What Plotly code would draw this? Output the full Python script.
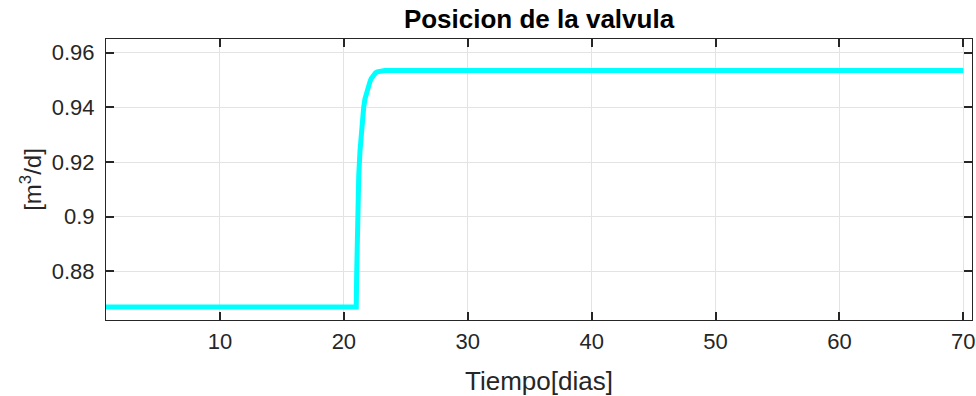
import plotly.graph_objects as go

# Data
tiempo = [0.8, 21.0, 21.03, 21.06, 21.1, 21.15, 21.2, 21.3, 21.4, 21.5, 21.6, 21.7, 21.8, 21.9, 22.0,
          22.1, 22.2, 22.3, 22.4, 22.55, 22.7, 22.85, 23.0, 23.3, 23.6, 70.0]
posicion = [0.867, 0.867, 0.878, 0.888, 0.900, 0.909, 0.915, 0.924, 0.931, 0.936, 0.940, 0.943, 0.945,
            0.9468, 0.948, 0.9493, 0.9505, 0.9513, 0.952, 0.9526, 0.953, 0.9532, 0.9534, 0.9535, 0.9535, 0.9535]

x_ticks = [10, 20, 30, 40, 50, 60, 70]
y_ticks = [0.88, 0.90, 0.92, 0.94, 0.96]
y_tick_text = ["0.88", "0.9", "0.92", "0.94", "0.96"]

FONT = "Liberation Sans, Arial, Helvetica, sans-serif"
DARK = "#262626"

fig = go.Figure()
fig.add_trace(go.Scatter(x=tiempo, y=posicion, mode="lines",
                         line=dict(color="#00FFFF", width=5),
                         showlegend=False, hoverinfo="skip"))

axis_common = dict(showline=True, linecolor=DARK, linewidth=1, mirror="ticks",
                   ticks="inside", ticklen=8, tickwidth=2, tickcolor=DARK,
                   showgrid=True, gridcolor="#E3E3E3", gridwidth=1, zeroline=False,
                   automargin=False,
                   tickfont=dict(family=FONT, size=22, color=DARK))

fig.update_layout(
    width=976, height=396,
    margin=dict(l=106, r=4, t=39, b=76),
    paper_bgcolor="white", plot_bgcolor="white",
    title=dict(text="<b>Posicion de la valvula</b>", x=539 / 976, xref="container", xanchor="center",
               y=0.952, yref="container", yanchor="middle",
               font=dict(family=FONT, size=26, color="black")),
    xaxis=dict(range=[0.8, 70.7], tickvals=x_ticks, ticktext=[str(v) for v in x_ticks],
               ticklabelstandoff=2,
               title=dict(text="Tiempo[dias]", standoff=18, font=dict(family=FONT, size=26, color=DARK)),
               **axis_common),
    yaxis=dict(range=[0.8622, 0.965], tickvals=y_ticks, ticktext=y_tick_text,
               ticklabelstandoff=6,
               title=dict(text="[m<sup>3</sup>/d]", standoff=3, font=dict(family=FONT, size=24, color=DARK)),
               **axis_common),
)

fig.write_html("out.html", config={"displayModeBar": False},
               post_script="document.body.style.margin='0';")
